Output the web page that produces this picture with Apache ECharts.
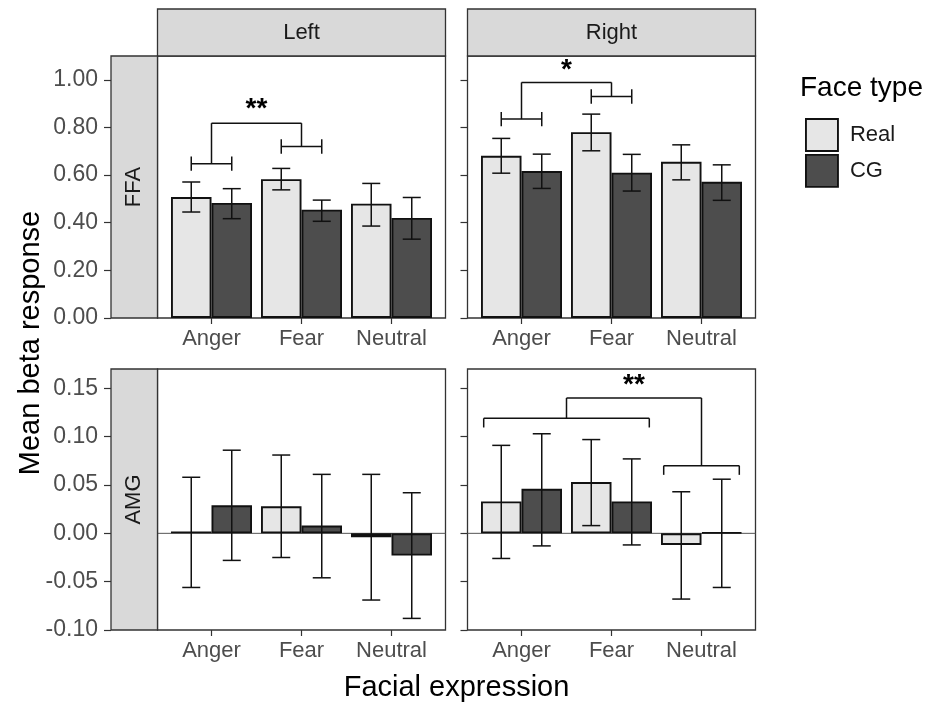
<!DOCTYPE html>
<html><head><meta charset="utf-8">
<script src="https://cdn.jsdelivr.net/npm/echarts@6/dist/echarts.min.js"></script>
<style>html,body{margin:0;padding:0;background:#fff}#c{width:929px;height:703px}</style>
</head><body><div id="c"></div>
<script>
// ---------------- data ----------------
const categories = ['Anger', 'Fear', 'Neutral'];
const faceTypes = ['Real', 'CG'];
const colTitles = ['Left', 'Right'];
const rowTitles = ['FFA', 'AMG'];

// FFA, Left hemisphere
const ffaLeftReal   = [0.508, 0.583, 0.480];
const ffaLeftRealLo = [0.445, 0.538, 0.386];
const ffaLeftRealHi = [0.571, 0.628, 0.565];
const ffaLeftCG     = [0.483, 0.455, 0.420];
const ffaLeftCGLo   = [0.417, 0.406, 0.331];
const ffaLeftCGHi   = [0.543, 0.495, 0.506];
// FFA, Right hemisphere
const ffaRightReal   = [0.681, 0.780, 0.656];
const ffaRightRealLo = [0.608, 0.702, 0.580];
const ffaRightRealHi = [0.754, 0.856, 0.727];
const ffaRightCG     = [0.617, 0.610, 0.572];
const ffaRightCGLo   = [0.544, 0.533, 0.494];
const ffaRightCGHi   = [0.688, 0.687, 0.643];
// AMG, Left hemisphere
const amgLeftReal   = [0.002, 0.028, -0.004];
const amgLeftRealLo = [-0.056, -0.025, -0.069];
const amgLeftRealHi = [0.058, 0.081, 0.061];
const amgLeftCG     = [0.029, 0.008, -0.023];
const amgLeftCGLo   = [-0.028, -0.046, -0.088];
const amgLeftCGHi   = [0.086, 0.061, 0.042];
// AMG, Right hemisphere
const amgRightReal   = [0.033, 0.053, -0.012];
const amgRightRealLo = [-0.026, 0.008, -0.068];
const amgRightRealHi = [0.091, 0.097, 0.043];
const amgRightCG     = [0.046, 0.033, 0.001];
const amgRightCGLo   = [-0.013, -0.012, -0.056];
const amgRightCGHi   = [0.103, 0.077, 0.056];

// axis ticks / ranges
const ffaTicks = [0, 0.2, 0.4, 0.6, 0.8, 1.0];
const amgTicks = [-0.10, -0.05, 0, 0.05, 0.10, 0.15];
const ffaRange = [0, 1.1];
const amgRange = [-0.10, 0.17];
const zeroLine = [0];

// significance annotations (x in category units, y in data units)
const sigFfaLeft  = {label: '**', subA: [-0.225, 0.225, 0.648], subB: [0.775, 1.225, 0.720], top: 0.818, labelY: 0.875, cap: [0.03, 0.03]};
const sigFfaRight = {label: '*',  subA: [-0.225, 0.225, 0.835], subB: [0.775, 1.225, 0.930], top: 0.989, labelY: 1.042, cap: [0.03, 0.03]};
const sigAmgRight = {label: '**', subA: [-0.42, 1.42, 0.119],   subB: [1.58, 2.42, 0.070],   top: 0.140, labelY: 0.153, cap: [0, 0.0095]};

// ---------------- layout / style ----------------
const FONT = "'Liberation Sans', Arial, sans-serif";
const REAL_COLOR = '#e6e6e6';
const CG_COLOR = '#4d4d4d';
const LINE = '#111111';
const BORDER = '#333333';
const STRIP = '#d9d9d9';

const panels = [
  {left: 157.5, top: 56,  w: 288, h: 262, real: ffaLeftReal,  realLo: ffaLeftRealLo,  realHi: ffaLeftRealHi,  cg: ffaLeftCG,  cgLo: ffaLeftCGLo,  cgHi: ffaLeftCGHi,  ticks: ffaTicks, range: ffaRange, sig: sigFfaLeft,  zero: false, labels: true},
  {left: 467.5, top: 56,  w: 288, h: 262, real: ffaRightReal, realLo: ffaRightRealLo, realHi: ffaRightRealHi, cg: ffaRightCG, cgLo: ffaRightCGLo, cgHi: ffaRightCGHi, ticks: ffaTicks, range: ffaRange, sig: sigFfaRight, zero: false, labels: false},
  {left: 157.5, top: 369, w: 288, h: 261, real: amgLeftReal,  realLo: amgLeftRealLo,  realHi: amgLeftRealHi,  cg: amgLeftCG,  cgLo: amgLeftCGLo,  cgHi: amgLeftCGHi,  ticks: amgTicks, range: amgRange, sig: null,        zero: true,  labels: true},
  {left: 467.5, top: 369, w: 288, h: 261, real: amgRightReal, realLo: amgRightRealLo, realHi: amgRightRealHi, cg: amgRightCG, cgLo: amgRightCGLo, cgHi: amgRightCGHi, ticks: amgTicks, range: amgRange, sig: sigAmgRight, zero: true,  labels: false}
];
const N = panels.length;
const EXP = 9; // ggplot discrete expansion beyond the category bands (0.1 band)

function errRender(offset) {
  return function (params, api) {
    const i = api.value(0);
    const lo = api.coord([i, api.value(1)]);
    const hi = api.coord([i, api.value(2)]);
    const bw = api.size([1, 0])[0];
    const x = lo[0] + offset * bw;
    const cw = 0.1 * bw;
    const st = {stroke: LINE, lineWidth: 1.5, fill: null};
    return {type: 'group', children: [
      {type: 'line', shape: {x1: x, y1: lo[1], x2: x, y2: hi[1]}, style: st},
      {type: 'line', shape: {x1: x - cw, y1: lo[1], x2: x + cw, y2: lo[1]}, style: st},
      {type: 'line', shape: {x1: x - cw, y1: hi[1], x2: x + cw, y2: hi[1]}, style: st}
    ]};
  };
}

function bracketRender(sig) {
  return function (params, api) {
    const base = api.coord([0, 0]);
    const bw = api.size([1, 0])[0];
    const X = u => base[0] + u * bw;
    const Y = v => api.coord([0, v])[1];
    const st = {stroke: LINE, lineWidth: 1.5, fill: null};
    const els = [];
    const line = (x1, y1, x2, y2) => els.push({type: 'line', shape: {x1, y1, x2, y2}, style: st});
    [sig.subA, sig.subB].forEach(s => {
      line(X(s[0]), Y(s[2]), X(s[1]), Y(s[2]));
      [s[0], s[1]].forEach(u => line(X(u), Y(s[2] + sig.cap[0]), X(u), Y(s[2] - sig.cap[1])));
    });
    const la = (sig.subA[0] + sig.subA[1]) / 2;
    const lb = (sig.subB[0] + sig.subB[1]) / 2;
    line(X(la), Y(sig.subA[2]), X(la), Y(sig.top));
    line(X(la), Y(sig.top), X(lb), Y(sig.top));
    line(X(lb), Y(sig.top), X(lb), Y(sig.subB[2]));
    els.push({type: 'text', style: {text: sig.label, x: X((la + lb) / 2), y: Y(sig.labelY),
      font: 'bold 28px ' + FONT, fill: '#000', align: 'center', verticalAlign: 'middle'}});
    return {type: 'group', children: els};
  };
}

const grid = [], xAxis = [], yAxis = [], series = [];
panels.forEach((p, k) => {
  // frame grid (full ggplot panel incl. expansion)
  grid.push({left: p.left, top: p.top, width: p.w, height: p.h, show: true,
    borderColor: BORDER, borderWidth: 1.3, backgroundColor: 'rgba(0,0,0,0)', containLabel: false});
  xAxis.push({gridIndex: k, type: 'value', min: 0, max: 1, show: false});
  yAxis.push({gridIndex: k, type: 'value', min: p.range[0], max: p.range[1],
    position: 'left', offset: p.labels ? (p.left - 111) : 0,
    axisLine: {show: false, onZero: false},
    axisTick: {show: true, length: 7, lineStyle: {color: BORDER, width: 1.2}, customValues: p.ticks},
    axisLabel: {show: p.labels, customValues: p.ticks, margin: 13, fontSize: 23, color: '#4d4d4d', fontFamily: FONT,
      formatter: v => Number(v).toFixed(2)},
    splitLine: {show: false}});
});
panels.forEach((p, k) => {
  // data grid (category bands only)
  grid.push({left: p.left + EXP, top: p.top, width: p.w - 2 * EXP, height: p.h, show: false, containLabel: false});
  xAxis.push({gridIndex: N + k, type: 'category', data: categories,
    axisLine: {show: false, onZero: false},
    axisTick: {show: true, alignWithLabel: true, interval: 0, length: 6, lineStyle: {color: BORDER, width: 1.2}},
    axisLabel: {interval: 0, hideOverlap: false, margin: 10, fontSize: 22, color: '#4d4d4d', fontFamily: FONT},
    splitLine: {show: false}});
  yAxis.push({gridIndex: N + k, type: 'value', min: p.range[0], max: p.range[1], show: false,
    axisLine: {onZero: false}, splitLine: {show: false}});
});

panels.forEach((p, k) => {
  if (p.zero) {
    series.push({type: 'custom', xAxisIndex: k, yAxisIndex: k, z: 1, silent: true,
      data: zeroLine.map(v => [0.5, v]), encode: {x: 0, y: 1},
      renderItem: (params, api) => {
        const cs = params.coordSys;
        const y = api.coord([0.5, api.value(1)])[1];
        return {type: 'line', shape: {x1: cs.x, y1: y, x2: cs.x + cs.width, y2: y},
          style: {stroke: '#555555', lineWidth: 1}};
      }});
  }
  const gi = N + k;
  series.push({name: 'Real', type: 'bar', xAxisIndex: gi, yAxisIndex: gi, data: p.real, z: 2,
    barGap: '0%', barCategoryGap: '10%',
    itemStyle: {color: REAL_COLOR, borderColor: LINE, borderWidth: 1.9}});
  series.push({name: 'CG', type: 'bar', xAxisIndex: gi, yAxisIndex: gi, data: p.cg, z: 2,
    barGap: '0%', barCategoryGap: '10%',
    itemStyle: {color: CG_COLOR, borderColor: LINE, borderWidth: 1.9}});
  series.push({type: 'custom', xAxisIndex: gi, yAxisIndex: gi, z: 3, silent: true,
    data: categories.map((c, i) => [i, p.realLo[i], p.realHi[i]]), encode: {x: 0, y: [1, 2]},
    renderItem: errRender(-0.225)});
  series.push({type: 'custom', xAxisIndex: gi, yAxisIndex: gi, z: 3, silent: true,
    data: categories.map((c, i) => [i, p.cgLo[i], p.cgHi[i]]), encode: {x: 0, y: [1, 2]},
    renderItem: errRender(0.225)});
  if (p.sig) {
    series.push({type: 'custom', xAxisIndex: gi, yAxisIndex: gi, z: 4, silent: true,
      data: [[0, p.sig.top]], encode: {x: 0, y: 1}, renderItem: bracketRender(p.sig)});
  }
});

// strips, titles
const graphic = [];
[panels[0], panels[1]].forEach((p, j) => {
  graphic.push({type: 'rect', shape: {x: p.left, y: 9, width: p.w, height: p.top - 9},
    style: {fill: STRIP, stroke: BORDER, lineWidth: 1.3}, z: 10});
  graphic.push({type: 'text', x: p.left + p.w / 2, y: 9 + (p.top - 9) / 2, z: 11,
    style: {text: colTitles[j], font: '22px ' + FONT, fill: '#1a1a1a', align: 'center', verticalAlign: 'middle'}});
});
[panels[0], panels[2]].forEach((p, j) => {
  graphic.push({type: 'rect', shape: {x: 111, y: p.top, width: p.left - 111, height: p.h},
    style: {fill: STRIP, stroke: BORDER, lineWidth: 1.3}, z: 10});
  graphic.push({type: 'text', x: 111 + (p.left - 111) / 2, y: p.top + p.h / 2, rotation: Math.PI / 2, z: 11,
    style: {text: rowTitles[j], font: '22px ' + FONT, fill: '#1a1a1a', align: 'center', verticalAlign: 'middle'}});
});
graphic.push({type: 'text', x: 31, y: 343, rotation: Math.PI / 2,
  style: {text: 'Mean beta response', font: '29px ' + FONT, fill: '#000', align: 'center', verticalAlign: 'middle'}});
graphic.push({type: 'text', x: 456.5, y: 688,
  style: {text: 'Facial expression', font: '29px ' + FONT, fill: '#000', align: 'center', verticalAlign: 'middle'}});
graphic.push({type: 'text', x: 800, y: 88,
  style: {text: 'Face type', font: '28px ' + FONT, fill: '#000', align: 'left', verticalAlign: 'middle'}});

const option = {
  animation: false,
  backgroundColor: '#fff',
  grid, xAxis, yAxis, series, graphic,
  legend: {
    orient: 'vertical', left: 800, top: 113, itemWidth: 32, itemHeight: 32, itemGap: 2,
    icon: 'rect', selectedMode: false,
    textStyle: {fontSize: 22, color: '#1a1a1a', fontFamily: FONT, padding: [0, 0, 0, 7]},
    data: [
      {name: 'Real', itemStyle: {color: REAL_COLOR, borderColor: LINE, borderWidth: 1.9}},
      {name: 'CG', itemStyle: {color: CG_COLOR, borderColor: LINE, borderWidth: 1.9}}
    ]
  }
};
const chart = echarts.init(document.getElementById('c'), null, {renderer: 'canvas'});
chart.setOption(option);
</script>
</body></html>
